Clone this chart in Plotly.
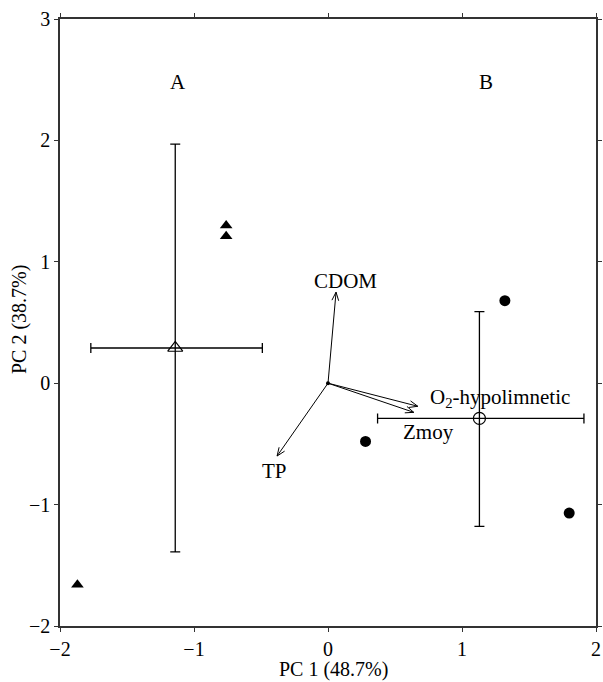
import numpy as np
import plotly.graph_objects as go

# group A samples (filled triangles)
a_x = [-0.76, -0.76, -1.87]
a_y = [1.30, 1.21, -1.66]
# group B samples (filled circles)
b_x = [1.32, 0.28, 1.80]
b_y = [0.68, -0.48, -1.07]
# centroids with ranges
cA = (-1.14, 0.29); cA_xr = (-1.77, -0.49); cA_yr = (-1.39, 1.97)
cB = (1.13, -0.29); cB_xr = (0.37, 1.91); cB_yr = (-1.18, 0.59)
# variable vectors
var_names = ["CDOM", "TP", "O<sub>2</sub>-hypolimnetic", "Zmoy"]
var_x = [0.06, -0.38, 0.67, 0.64]
var_y = [0.75, -0.60, -0.19, -0.24]
lab_x = [0.13, -0.40, 1.28, 0.75]
lab_y = [0.84, -0.72, -0.12, -0.40]
group_labels = ["A", "B"]
group_lab_x = [-1.12, 1.18]
group_lab_y = [2.48, 2.48]
x_title = "PC 1 (48.7%)"
y_title = "PC 2 (38.7%)"

FONT = "Liberation Serif, Times New Roman, serif"
W, H = 603, 682
ML, MR, MT, MB = 60, 7, 19, 56
XR, YR = (-2, 2), (-2, 3)
sx = (W - ML - MR) / (XR[1] - XR[0])
sy = (H - MT - MB) / (YR[1] - YR[0])

fig = go.Figure()

# arrows
for vx, vy in zip(var_x, var_y):
    fig.add_trace(go.Scatter(x=[0, vx], y=[0, vy], mode="lines",
                             line=dict(color="black", width=1), hoverinfo="skip", showlegend=False))
    px, py = vx * sx, vy * sy
    L = np.hypot(px, py)
    ux, uy = px / L, py / L
    hl, ang = 9.0, np.radians(22)
    xs, ys = [], []
    for s in (1, -1):
        c, sn = np.cos(s * ang), np.sin(s * ang)
        wx = -(ux * c - uy * sn) * hl
        wy = -(ux * sn + uy * c) * hl
        xs += [vx + wx / sx, vx, None]
        ys += [vy + wy / sy, vy, None]
    fig.add_trace(go.Scatter(x=xs, y=ys, mode="lines", line=dict(color="black", width=1),
                             hoverinfo="skip", showlegend=False))
fig.add_trace(go.Scatter(x=[0], y=[0], mode="markers", marker=dict(color="black", size=4),
                         showlegend=False, hoverinfo="skip"))

# centroids with error bars
for c, xr, yr, sym, sz in [(cA, cA_xr, cA_yr, "triangle-up-open", 13),
                           (cB, cB_xr, cB_yr, "circle-open", 12)]:
    fig.add_trace(go.Scatter(
        x=[c[0]], y=[c[1]], mode="markers",
        marker=dict(symbol=sym, size=sz, color="black", line=dict(width=1.2, color="black")),
        error_x=dict(type="data", symmetric=False, array=[xr[1] - c[0]], arrayminus=[c[0] - xr[0]],
                     color="black", thickness=1.3, width=5),
        error_y=dict(type="data", symmetric=False, array=[yr[1] - c[1]], arrayminus=[c[1] - yr[0]],
                     color="black", thickness=1.3, width=5),
        showlegend=False))

fig.add_trace(go.Scatter(x=a_x, y=a_y, mode="markers",
                         marker=dict(symbol="triangle-up", size=11, color="black"), showlegend=False))
fig.add_trace(go.Scatter(x=b_x, y=b_y, mode="markers",
                         marker=dict(symbol="circle", size=11, color="black"), showlegend=False))

for t, x, y in zip(var_names + group_labels, lab_x + group_lab_x, lab_y + group_lab_y):
    fig.add_annotation(x=x, y=y, text=t, showarrow=False, font=dict(family=FONT, size=21, color="black"))

# axis titles
fig.add_annotation(xref="paper", yref="paper", x=0.511, y=0, yanchor="bottom", yshift=-56,
                   borderpad=0, text=x_title, showarrow=False,
                   font=dict(family=FONT, size=20, color="black"))
fig.add_annotation(xref="paper", yref="paper", x=0, y=0.504, xanchor="center", xshift=-41,
                   textangle=-90, text=y_title, showarrow=False,
                   font=dict(family=FONT, size=20, color="black"))

axis_common = dict(showgrid=False, zeroline=False, showline=True, linecolor="#333333", linewidth=1.6,
                   mirror="allticks", ticks="outside", ticklen=4, tickwidth=1, tickcolor="#333333",
                   tickfont=dict(family=FONT, size=20, color="black"), dtick=1, automargin=False)
fig.update_xaxes(range=list(XR), **axis_common)
fig.update_yaxes(range=list(YR), **axis_common)
fig.update_layout(width=W, height=H, margin=dict(l=ML, r=MR, t=MT, b=MB, autoexpand=False),
                  plot_bgcolor="white", paper_bgcolor="white", font=dict(family=FONT))
fig.write_html("out.html", config=dict(displayModeBar=False, responsive=False),
               post_script="document.body.style.margin='0px';document.body.style.padding='0px';")
